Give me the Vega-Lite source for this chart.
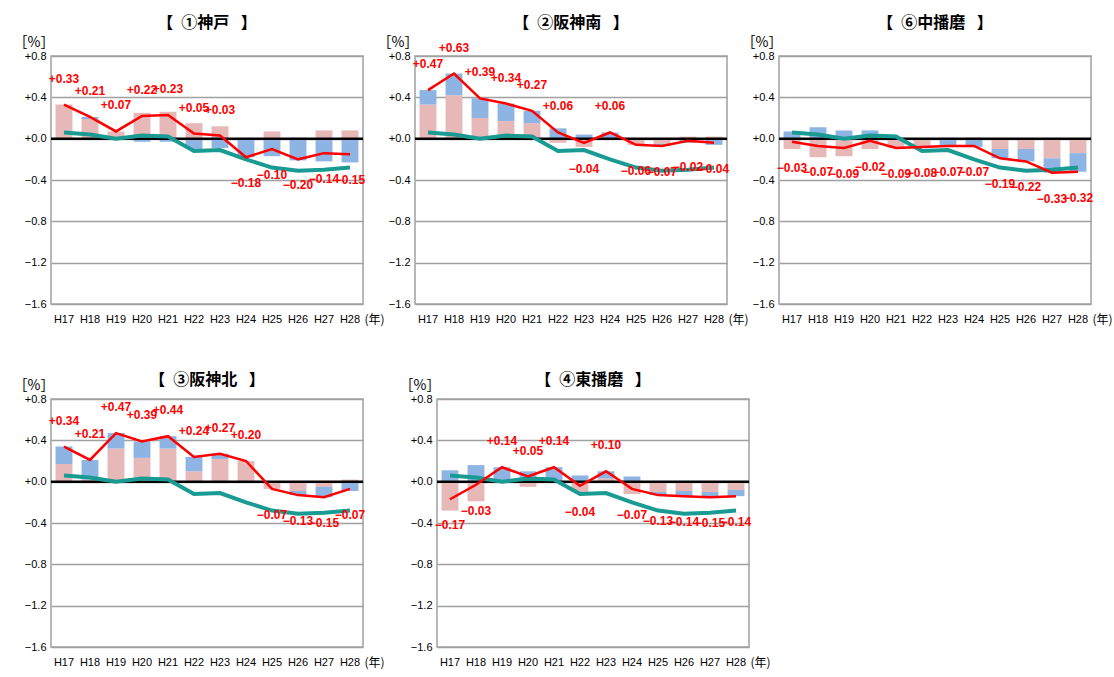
{
  "$schema": "https://vega.github.io/schema/vega-lite/v6.json",
  "autosize": {"type": "pad"},
  "padding": {"left": 5, "top": 14, "right": 2, "bottom": 4},
  "background": "white",
  "config": {
    "font": "Liberation Sans",
    "view": {"stroke": "#a6a6a6", "strokeWidth": 1.6},
    "title": {"font": "Noto Sans CJK JP", "fontSize": 16, "fontWeight": "bold", "color": "#000", "frame": "group", "anchor": "middle"},
    "axis": {"labelColor": "#000", "titleColor": "#000"}
  },
  "datasets": {
    "pref": [
      {"year": "H17", "value": 0.06}, {"year": "H18", "value": 0.04}, {"year": "H19", "value": 0.0},
      {"year": "H20", "value": 0.03}, {"year": "H21", "value": 0.02}, {"year": "H22", "value": -0.12},
      {"year": "H23", "value": -0.11}, {"year": "H24", "value": -0.2}, {"year": "H25", "value": -0.28},
      {"year": "H26", "value": -0.31}, {"year": "H27", "value": -0.3}, {"year": "H28", "value": -0.28}
    ],
    "d": [
      {"region": "神戸", "year": "H17", "社会増減": 0.33, "自然増減": 0.0, "total": 0.33},
      {"region": "神戸", "year": "H18", "社会増減": 0.19, "自然増減": 0.02, "total": 0.21},
      {"region": "神戸", "year": "H19", "社会増減": 0.07, "自然増減": 0.0, "total": 0.07},
      {"region": "神戸", "year": "H20", "社会増減": 0.25, "自然増減": -0.03, "total": 0.22},
      {"region": "神戸", "year": "H21", "社会増減": 0.26, "自然増減": -0.03, "total": 0.23},
      {"region": "神戸", "year": "H22", "社会増減": 0.15, "自然増減": -0.1, "total": 0.05},
      {"region": "神戸", "year": "H23", "社会増減": 0.12, "自然増減": -0.09, "total": 0.03},
      {"region": "神戸", "year": "H24", "社会増減": -0.01, "自然増減": -0.17, "total": -0.18},
      {"region": "神戸", "year": "H25", "社会増減": 0.07, "自然増減": -0.17, "total": -0.1},
      {"region": "神戸", "year": "H26", "社会増減": 0.01, "自然増減": -0.21, "total": -0.2},
      {"region": "神戸", "year": "H27", "社会増減": 0.08, "自然増減": -0.22, "total": -0.14},
      {"region": "神戸", "year": "H28", "社会増減": 0.08, "自然増減": -0.23, "total": -0.15},
      {"region": "阪神南", "year": "H17", "社会増減": 0.33, "自然増減": 0.14, "total": 0.47},
      {"region": "阪神南", "year": "H18", "社会増減": 0.42, "自然増減": 0.21, "total": 0.63},
      {"region": "阪神南", "year": "H19", "社会増減": 0.2, "自然増減": 0.19, "total": 0.39},
      {"region": "阪神南", "year": "H20", "社会増減": 0.17, "自然増減": 0.17, "total": 0.34},
      {"region": "阪神南", "year": "H21", "社会増減": 0.15, "自然増減": 0.12, "total": 0.27},
      {"region": "阪神南", "year": "H22", "社会増減": -0.04, "自然増減": 0.1, "total": 0.06},
      {"region": "阪神南", "year": "H23", "社会増減": -0.08, "自然増減": 0.04, "total": -0.04},
      {"region": "阪神南", "year": "H24", "社会増減": 0.0, "自然増減": 0.06, "total": 0.06},
      {"region": "阪神南", "year": "H25", "社会増減": -0.06, "自然増減": 0.0, "total": -0.06},
      {"region": "阪神南", "year": "H26", "社会増減": -0.05, "自然増減": -0.02, "total": -0.07},
      {"region": "阪神南", "year": "H27", "社会増減": 0.02, "自然増減": -0.04, "total": -0.02},
      {"region": "阪神南", "year": "H28", "社会増減": 0.02, "自然増減": -0.06, "total": -0.04},
      {"region": "中播磨", "year": "H17", "社会増減": -0.1, "自然増減": 0.07, "total": -0.03},
      {"region": "中播磨", "year": "H18", "社会増減": -0.18, "自然増減": 0.11, "total": -0.07},
      {"region": "中播磨", "year": "H19", "社会増減": -0.17, "自然増減": 0.08, "total": -0.09},
      {"region": "中播磨", "year": "H20", "社会増減": -0.1, "自然増減": 0.08, "total": -0.02},
      {"region": "中播磨", "year": "H21", "社会増減": -0.09, "自然増減": 0.0, "total": -0.09},
      {"region": "中播磨", "year": "H22", "社会増減": -0.08, "自然増減": 0.0, "total": -0.08},
      {"region": "中播磨", "year": "H23", "社会増減": -0.01, "自然増減": -0.06, "total": -0.07},
      {"region": "中播磨", "year": "H24", "社会増減": 0.01, "自然増減": -0.08, "total": -0.07},
      {"region": "中播磨", "year": "H25", "社会増減": -0.1, "自然増減": -0.09, "total": -0.19},
      {"region": "中播磨", "year": "H26", "社会増減": -0.1, "自然増減": -0.12, "total": -0.22},
      {"region": "中播磨", "year": "H27", "社会増減": -0.19, "自然増減": -0.14, "total": -0.33},
      {"region": "中播磨", "year": "H28", "社会増減": -0.14, "自然増減": -0.18, "total": -0.32},
      {"region": "阪神北", "year": "H17", "社会増減": 0.17, "自然増減": 0.17, "total": 0.34},
      {"region": "阪神北", "year": "H18", "社会増減": 0.02, "自然増減": 0.19, "total": 0.21},
      {"region": "阪神北", "year": "H19", "社会増減": 0.32, "自然増減": 0.15, "total": 0.47},
      {"region": "阪神北", "year": "H20", "社会増減": 0.23, "自然増減": 0.16, "total": 0.39},
      {"region": "阪神北", "year": "H21", "社会増減": 0.32, "自然増減": 0.12, "total": 0.44},
      {"region": "阪神北", "year": "H22", "社会増減": 0.1, "自然増減": 0.14, "total": 0.24},
      {"region": "阪神北", "year": "H23", "社会増減": 0.22, "自然増減": 0.05, "total": 0.27},
      {"region": "阪神北", "year": "H24", "社会増減": 0.2, "自然増減": 0.0, "total": 0.2},
      {"region": "阪神北", "year": "H25", "社会増減": -0.07, "自然増減": 0.0, "total": -0.07},
      {"region": "阪神北", "year": "H26", "社会増減": -0.09, "自然増減": -0.04, "total": -0.13},
      {"region": "阪神北", "year": "H27", "社会増減": -0.05, "自然増減": -0.1, "total": -0.15},
      {"region": "阪神北", "year": "H28", "社会増減": 0.02, "自然増減": -0.09, "total": -0.07},
      {"region": "東播磨", "year": "H17", "社会増減": -0.28, "自然増減": 0.11, "total": -0.17},
      {"region": "東播磨", "year": "H18", "社会増減": -0.19, "自然増減": 0.16, "total": -0.03},
      {"region": "東播磨", "year": "H19", "社会増減": 0.0, "自然増減": 0.14, "total": 0.14},
      {"region": "東播磨", "year": "H20", "社会増減": -0.05, "自然増減": 0.1, "total": 0.05},
      {"region": "東播磨", "year": "H21", "社会増減": 0.0, "自然増減": 0.14, "total": 0.14},
      {"region": "東播磨", "year": "H22", "社会増減": -0.1, "自然増減": 0.06, "total": -0.04},
      {"region": "東播磨", "year": "H23", "社会増減": 0.03, "自然増減": 0.07, "total": 0.1},
      {"region": "東播磨", "year": "H24", "社会増減": -0.12, "自然増減": 0.05, "total": -0.07},
      {"region": "東播磨", "year": "H25", "社会増減": -0.1, "自然増減": -0.03, "total": -0.13},
      {"region": "東播磨", "year": "H26", "社会増減": -0.09, "自然増減": -0.05, "total": -0.14},
      {"region": "東播磨", "year": "H27", "社会増減": -0.1, "自然増減": -0.05, "total": -0.15},
      {"region": "東播磨", "year": "H28", "社会増減": -0.08, "自然増減": -0.06, "total": -0.14}
    ]
  },
  "spacing": 45,
  "vconcat": [
    {
      "bounds": "flush",
      "spacing": 52,
      "hconcat": [
        {
          "width": 312, "height": 248,
          "title": {"text": "【\u2002①神戸\u2002 】", "offset": 4},
          "layer": [
            {"data": {"name": "d"}, "transform": [{"filter": "datum.region === '神戸'"}, {"fold": ["社会増減", "自然増減"], "as": ["type", "value"]}],
             "mark": {"type": "bar"},
             "encoding": {
               "x": {"field": "year", "type": "ordinal", "scale": {"paddingInner": 0.35, "paddingOuter": 0.175}, "axis": {"title": "(年)", "labelAngle": 0, "domain": false, "ticks": false, "labelPadding": 9, "labelFontSize": 11, "titleX": 313, "titleY": 15, "titleAlign": "left", "titleBaseline": "middle", "titleFontSize": 12, "titleFontWeight": "normal", "titleFont": "Noto Sans CJK JP"}},
               "y": {"field": "value", "type": "quantitative", "stack": "zero", "scale": {"domain": [-1.6, 0.8], "nice": false, "zero": false}, "axis": {"title": "［%］", "values": [-1.6, -1.2, -0.8, -0.4, 0, 0.4, 0.8], "format": "+.1f", "domain": false, "ticks": false, "labelPadding": 5, "labelFontSize": 11, "grid": true, "gridColor": "#a0a0a0", "gridWidth": 1.6, "titleAngle": 0, "titleX": -38, "titleY": -7, "titleAlign": "left", "titleBaseline": "bottom", "titleFontSize": 14, "titleFont": "Noto Sans CJK JP", "titleFontWeight": "normal", "minExtent": 45, "maxExtent": 45}},
               "color": {"field": "type", "type": "nominal", "scale": {"domain": ["社会増減", "自然増減"], "range": ["#e6b8b7", "#8db4e2"]}, "legend": null},
               "order": {"field": "type", "sort": "ascending"}
             }},
            {"data": {"values": [{}]}, "mark": {"type": "rule", "color": "#000", "strokeWidth": 2.5}, "encoding": {"y": {"datum": 0}}},
            {"data": {"name": "pref"}, "mark": {"type": "line", "color": "#199a92", "strokeWidth": 4}, "encoding": {"x": {"field": "year", "type": "ordinal"}, "y": {"field": "value", "type": "quantitative"}}},
            {"data": {"name": "d"}, "transform": [{"filter": "datum.region === '神戸'"}], "mark": {"type": "line", "color": "#ff0000", "strokeWidth": 2.5}, "encoding": {"x": {"field": "year", "type": "ordinal"}, "y": {"field": "total", "type": "quantitative"}}},
            {"data": {"name": "d"}, "transform": [{"filter": "datum.region === '神戸' && datum.total > 0"}], "mark": {"type": "text", "dy": -26, "color": "#ff0000", "fontWeight": "bold", "fontSize": 12}, "encoding": {"x": {"field": "year", "type": "ordinal"}, "y": {"field": "total", "type": "quantitative"}, "text": {"field": "total", "format": "+.2f"}}},
            {"data": {"name": "d"}, "transform": [{"filter": "datum.region === '神戸' && datum.total < 0"}], "mark": {"type": "text", "dy": 26, "color": "#ff0000", "fontWeight": "bold", "fontSize": 12}, "encoding": {"x": {"field": "year", "type": "ordinal"}, "y": {"field": "total", "type": "quantitative"}, "text": {"field": "total", "format": "+.2f"}}}
          ]
        },
        {
          "width": 312, "height": 248,
          "title": {"text": "【\u2002②阪神南\u2002 】", "offset": 4},
          "layer": [
            {"data": {"name": "d"}, "transform": [{"filter": "datum.region === '阪神南'"}, {"fold": ["社会増減", "自然増減"], "as": ["type", "value"]}],
             "mark": {"type": "bar"},
             "encoding": {
               "x": {"field": "year", "type": "ordinal", "scale": {"paddingInner": 0.35, "paddingOuter": 0.175}, "axis": {"title": "(年)", "labelAngle": 0, "domain": false, "ticks": false, "labelPadding": 9, "labelFontSize": 11, "titleX": 313, "titleY": 15, "titleAlign": "left", "titleBaseline": "middle", "titleFontSize": 12, "titleFontWeight": "normal", "titleFont": "Noto Sans CJK JP"}},
               "y": {"field": "value", "type": "quantitative", "stack": "zero", "scale": {"domain": [-1.6, 0.8], "nice": false, "zero": false}, "axis": {"title": "［%］", "values": [-1.6, -1.2, -0.8, -0.4, 0, 0.4, 0.8], "format": "+.1f", "domain": false, "ticks": false, "labelPadding": 5, "labelFontSize": 11, "grid": true, "gridColor": "#a0a0a0", "gridWidth": 1.6, "titleAngle": 0, "titleX": -38, "titleY": -7, "titleAlign": "left", "titleBaseline": "bottom", "titleFontSize": 14, "titleFont": "Noto Sans CJK JP", "titleFontWeight": "normal"}},
               "color": {"field": "type", "type": "nominal", "scale": {"domain": ["社会増減", "自然増減"], "range": ["#e6b8b7", "#8db4e2"]}, "legend": null},
               "order": {"field": "type", "sort": "ascending"}
             }},
            {"data": {"values": [{}]}, "mark": {"type": "rule", "color": "#000", "strokeWidth": 2.5}, "encoding": {"y": {"datum": 0}}},
            {"data": {"name": "pref"}, "mark": {"type": "line", "color": "#199a92", "strokeWidth": 4}, "encoding": {"x": {"field": "year", "type": "ordinal"}, "y": {"field": "value", "type": "quantitative"}}},
            {"data": {"name": "d"}, "transform": [{"filter": "datum.region === '阪神南'"}], "mark": {"type": "line", "color": "#ff0000", "strokeWidth": 2.5}, "encoding": {"x": {"field": "year", "type": "ordinal"}, "y": {"field": "total", "type": "quantitative"}}},
            {"data": {"name": "d"}, "transform": [{"filter": "datum.region === '阪神南' && datum.total > 0"}], "mark": {"type": "text", "dy": -26, "color": "#ff0000", "fontWeight": "bold", "fontSize": 12}, "encoding": {"x": {"field": "year", "type": "ordinal"}, "y": {"field": "total", "type": "quantitative"}, "text": {"field": "total", "format": "+.2f"}}},
            {"data": {"name": "d"}, "transform": [{"filter": "datum.region === '阪神南' && datum.total < 0"}], "mark": {"type": "text", "dy": 26, "color": "#ff0000", "fontWeight": "bold", "fontSize": 12}, "encoding": {"x": {"field": "year", "type": "ordinal"}, "y": {"field": "total", "type": "quantitative"}, "text": {"field": "total", "format": "+.2f"}}}
          ]
        },
        {
          "width": 312, "height": 248,
          "title": {"text": "【\u2002⑥中播磨\u2002 】", "offset": 4},
          "layer": [
            {"data": {"name": "d"}, "transform": [{"filter": "datum.region === '中播磨'"}, {"fold": ["社会増減", "自然増減"], "as": ["type", "value"]}],
             "mark": {"type": "bar"},
             "encoding": {
               "x": {"field": "year", "type": "ordinal", "scale": {"paddingInner": 0.35, "paddingOuter": 0.175}, "axis": {"title": "(年)", "labelAngle": 0, "domain": false, "ticks": false, "labelPadding": 9, "labelFontSize": 11, "titleX": 313, "titleY": 15, "titleAlign": "left", "titleBaseline": "middle", "titleFontSize": 12, "titleFontWeight": "normal", "titleFont": "Noto Sans CJK JP"}},
               "y": {"field": "value", "type": "quantitative", "stack": "zero", "scale": {"domain": [-1.6, 0.8], "nice": false, "zero": false}, "axis": {"title": "［%］", "values": [-1.6, -1.2, -0.8, -0.4, 0, 0.4, 0.8], "format": "+.1f", "domain": false, "ticks": false, "labelPadding": 5, "labelFontSize": 11, "grid": true, "gridColor": "#a0a0a0", "gridWidth": 1.6, "titleAngle": 0, "titleX": -38, "titleY": -7, "titleAlign": "left", "titleBaseline": "bottom", "titleFontSize": 14, "titleFont": "Noto Sans CJK JP", "titleFontWeight": "normal"}},
               "color": {"field": "type", "type": "nominal", "scale": {"domain": ["社会増減", "自然増減"], "range": ["#e6b8b7", "#8db4e2"]}, "legend": null},
               "order": {"field": "type", "sort": "ascending"}
             }},
            {"data": {"values": [{}]}, "mark": {"type": "rule", "color": "#000", "strokeWidth": 2.5}, "encoding": {"y": {"datum": 0}}},
            {"data": {"name": "pref"}, "mark": {"type": "line", "color": "#199a92", "strokeWidth": 4}, "encoding": {"x": {"field": "year", "type": "ordinal"}, "y": {"field": "value", "type": "quantitative"}}},
            {"data": {"name": "d"}, "transform": [{"filter": "datum.region === '中播磨'"}], "mark": {"type": "line", "color": "#ff0000", "strokeWidth": 2.5}, "encoding": {"x": {"field": "year", "type": "ordinal"}, "y": {"field": "total", "type": "quantitative"}}},
            {"data": {"name": "d"}, "transform": [{"filter": "datum.region === '中播磨' && datum.total > 0"}], "mark": {"type": "text", "dy": -26, "color": "#ff0000", "fontWeight": "bold", "fontSize": 12}, "encoding": {"x": {"field": "year", "type": "ordinal"}, "y": {"field": "total", "type": "quantitative"}, "text": {"field": "total", "format": "+.2f"}}},
            {"data": {"name": "d"}, "transform": [{"filter": "datum.region === '中播磨' && datum.total < 0"}], "mark": {"type": "text", "dy": 26, "color": "#ff0000", "fontWeight": "bold", "fontSize": 12}, "encoding": {"x": {"field": "year", "type": "ordinal"}, "y": {"field": "total", "type": "quantitative"}, "text": {"field": "total", "format": "+.2f"}}}
          ]
        }
      ]
    },
    {
      "bounds": "flush",
      "spacing": 74,
      "hconcat": [
        {
          "width": 312, "height": 248,
          "title": {"text": "【\u2002③阪神北\u2002 】", "offset": -10},
          "layer": [
            {"data": {"name": "d"}, "transform": [{"filter": "datum.region === '阪神北'"}, {"fold": ["社会増減", "自然増減"], "as": ["type", "value"]}],
             "mark": {"type": "bar"},
             "encoding": {
               "x": {"field": "year", "type": "ordinal", "scale": {"paddingInner": 0.35, "paddingOuter": 0.175}, "axis": {"title": "(年)", "labelAngle": 0, "domain": false, "ticks": false, "labelPadding": 9, "labelFontSize": 11, "titleX": 313, "titleY": 15, "titleAlign": "left", "titleBaseline": "middle", "titleFontSize": 12, "titleFontWeight": "normal", "titleFont": "Noto Sans CJK JP"}},
               "y": {"field": "value", "type": "quantitative", "stack": "zero", "scale": {"domain": [-1.6, 0.8], "nice": false, "zero": false}, "axis": {"title": "［%］", "values": [-1.6, -1.2, -0.8, -0.4, 0, 0.4, 0.8], "format": "+.1f", "domain": false, "ticks": false, "labelPadding": 5, "labelFontSize": 11, "grid": true, "gridColor": "#a0a0a0", "gridWidth": 1.6, "titleAngle": 0, "titleX": -38, "titleY": -7, "titleAlign": "left", "titleBaseline": "bottom", "titleFontSize": 14, "titleFont": "Noto Sans CJK JP", "titleFontWeight": "normal", "minExtent": 38, "maxExtent": 38}},
               "color": {"field": "type", "type": "nominal", "scale": {"domain": ["社会増減", "自然増減"], "range": ["#e6b8b7", "#8db4e2"]}, "legend": null},
               "order": {"field": "type", "sort": "ascending"}
             }},
            {"data": {"values": [{}]}, "mark": {"type": "rule", "color": "#000", "strokeWidth": 2.5}, "encoding": {"y": {"datum": 0}}},
            {"data": {"name": "pref"}, "mark": {"type": "line", "color": "#199a92", "strokeWidth": 4}, "encoding": {"x": {"field": "year", "type": "ordinal"}, "y": {"field": "value", "type": "quantitative"}}},
            {"data": {"name": "d"}, "transform": [{"filter": "datum.region === '阪神北'"}], "mark": {"type": "line", "color": "#ff0000", "strokeWidth": 2.5}, "encoding": {"x": {"field": "year", "type": "ordinal"}, "y": {"field": "total", "type": "quantitative"}}},
            {"data": {"name": "d"}, "transform": [{"filter": "datum.region === '阪神北' && datum.total > 0"}], "mark": {"type": "text", "dy": -26, "color": "#ff0000", "fontWeight": "bold", "fontSize": 12}, "encoding": {"x": {"field": "year", "type": "ordinal"}, "y": {"field": "total", "type": "quantitative"}, "text": {"field": "total", "format": "+.2f"}}},
            {"data": {"name": "d"}, "transform": [{"filter": "datum.region === '阪神北' && datum.total < 0"}], "mark": {"type": "text", "dy": 26, "color": "#ff0000", "fontWeight": "bold", "fontSize": 12}, "encoding": {"x": {"field": "year", "type": "ordinal"}, "y": {"field": "total", "type": "quantitative"}, "text": {"field": "total", "format": "+.2f"}}}
          ]
        },
        {
          "width": 312, "height": 248,
          "title": {"text": "【\u2002④東播磨\u2002 】", "offset": -10},
          "layer": [
            {"data": {"name": "d"}, "transform": [{"filter": "datum.region === '東播磨'"}, {"fold": ["社会増減", "自然増減"], "as": ["type", "value"]}],
             "mark": {"type": "bar"},
             "encoding": {
               "x": {"field": "year", "type": "ordinal", "scale": {"paddingInner": 0.35, "paddingOuter": 0.175}, "axis": {"title": "(年)", "labelAngle": 0, "domain": false, "ticks": false, "labelPadding": 9, "labelFontSize": 11, "titleX": 313, "titleY": 15, "titleAlign": "left", "titleBaseline": "middle", "titleFontSize": 12, "titleFontWeight": "normal", "titleFont": "Noto Sans CJK JP"}},
               "y": {"field": "value", "type": "quantitative", "stack": "zero", "scale": {"domain": [-1.6, 0.8], "nice": false, "zero": false}, "axis": {"title": "［%］", "values": [-1.6, -1.2, -0.8, -0.4, 0, 0.4, 0.8], "format": "+.1f", "domain": false, "ticks": false, "labelPadding": 5, "labelFontSize": 11, "grid": true, "gridColor": "#a0a0a0", "gridWidth": 1.6, "titleAngle": 0, "titleX": -38, "titleY": -7, "titleAlign": "left", "titleBaseline": "bottom", "titleFontSize": 14, "titleFont": "Noto Sans CJK JP", "titleFontWeight": "normal"}},
               "color": {"field": "type", "type": "nominal", "scale": {"domain": ["社会増減", "自然増減"], "range": ["#e6b8b7", "#8db4e2"]}, "legend": null},
               "order": {"field": "type", "sort": "ascending"}
             }},
            {"data": {"values": [{}]}, "mark": {"type": "rule", "color": "#000", "strokeWidth": 2.5}, "encoding": {"y": {"datum": 0}}},
            {"data": {"name": "pref"}, "mark": {"type": "line", "color": "#199a92", "strokeWidth": 4}, "encoding": {"x": {"field": "year", "type": "ordinal"}, "y": {"field": "value", "type": "quantitative"}}},
            {"data": {"name": "d"}, "transform": [{"filter": "datum.region === '東播磨'"}], "mark": {"type": "line", "color": "#ff0000", "strokeWidth": 2.5}, "encoding": {"x": {"field": "year", "type": "ordinal"}, "y": {"field": "total", "type": "quantitative"}}},
            {"data": {"name": "d"}, "transform": [{"filter": "datum.region === '東播磨' && datum.total > 0"}], "mark": {"type": "text", "dy": -26, "color": "#ff0000", "fontWeight": "bold", "fontSize": 12}, "encoding": {"x": {"field": "year", "type": "ordinal"}, "y": {"field": "total", "type": "quantitative"}, "text": {"field": "total", "format": "+.2f"}}},
            {"data": {"name": "d"}, "transform": [{"filter": "datum.region === '東播磨' && datum.total < 0"}], "mark": {"type": "text", "dy": 26, "color": "#ff0000", "fontWeight": "bold", "fontSize": 12}, "encoding": {"x": {"field": "year", "type": "ordinal"}, "y": {"field": "total", "type": "quantitative"}, "text": {"field": "total", "format": "+.2f"}}}
          ]
        }
      ]
    }
  ]
}
